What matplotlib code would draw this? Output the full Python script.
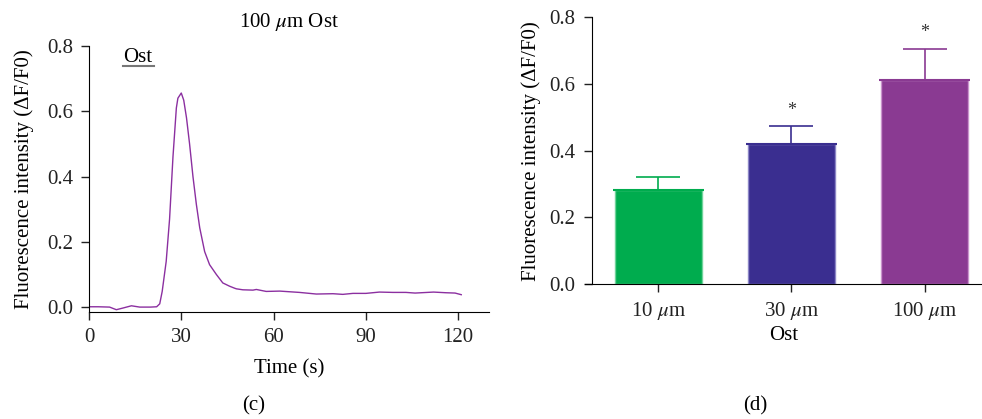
import numpy as np
import matplotlib
matplotlib.use("Agg")
import matplotlib.pyplot as plt

plt.rcParams["font.family"] = ["Liberation Serif", "DejaVu Serif"]
plt.rcParams["mathtext.fontset"] = "stix"
plt.rcParams["font.size"] = 15

# Panel (c): trace of 100 um Ost
time_s = [0, 3, 6.7, 8.9, 11, 13.8, 16.5, 20, 22, 23, 23.8, 25.1, 26.2, 27.3, 28.4,
          28.9, 30, 30.8, 31.7, 32.7, 33.8, 34.9, 36, 37.6, 39.2, 41.4, 43.5, 45.7,
          47.3, 47.9, 50, 53.3, 54.4, 57.6, 62, 68.4, 73.9, 79.3, 82.5, 85.8, 90,
          94.4, 98.8, 103, 106, 112, 116, 119, 121]
trace = [0.001, 0.001, 0.0, -0.008, -0.003, 0.004, 0.0, 0.0, 0.001, 0.01, 0.048,
         0.14, 0.27, 0.46, 0.61, 0.64, 0.656, 0.634, 0.58, 0.5, 0.40, 0.315, 0.243,
         0.17, 0.13, 0.10, 0.074, 0.064, 0.058, 0.056, 0.053, 0.052, 0.054, 0.048,
         0.049, 0.045, 0.040, 0.041, 0.039, 0.042, 0.042, 0.046, 0.045, 0.045,
         0.043, 0.046, 0.044, 0.043, 0.038]

# Panel (d): bar means and SEM
groups = [r"10 $\mu$m", r"30 $\mu$m", r"100 $\mu$m"]
means = [0.282, 0.421, 0.613]
errs = [0.039, 0.053, 0.093]
stars = ["", "*", "*"]
colors = ["#00AC4E", "#3A2E90", "#8A3A92"]
edge_colors = ["#6FD39A", "#8C86C6", "#C995CC"]

fig = plt.figure(figsize=(9.82, 4.19), dpi=100)

# ---- panel (c)
ax1 = fig.add_axes([0.0906, 0.2554, 0.4073, 0.6348])
ax1.plot(time_s, trace, color="#8B2FA0", lw=1.0)
ax1.set_xlim(0, 130)
ax1.set_ylim(-0.015, 0.8)
ax1.set_xticks([0, 30, 60, 90, 120])
ax1.set_yticks([0.0, 0.2, 0.4, 0.6, 0.8])
ax1.set_yticklabels(["0.0", "0.2", "0.4", "0.6", "0.8"])
ax1.spines["top"].set_visible(False)
ax1.spines["right"].set_visible(False)
ax1.tick_params(direction="out", length=5.5, width=1, colors="#222222", pad=6)
ax1.set_xlabel("Time (s)", labelpad=9)
ax1.set_ylabel("Fluorescence intensity (ΔF/F0)", labelpad=9)
ax1.set_title(r"100 $\mu$m Ost", fontsize=15, pad=14)
ax1.text(0.085, 0.957, "Ost", transform=ax1.transAxes, va="center")
ax1.plot([0.085, 0.162], [0.926, 0.926], transform=ax1.transAxes, color="#777777", lw=1.5)

# ---- panel (d)
ax2 = fig.add_axes([0.5957, 0.3222, 0.4043, 0.6365])
pos = np.arange(len(groups))
ax2.bar(pos, means, width=0.65, color=colors, edgecolor=edge_colors, lw=1, zorder=2)
for p, m, e, c, ec, s in zip(pos, means, errs, colors, edge_colors, stars):
    ax2.errorbar(p, m, yerr=[[0], [e]], fmt="none", ecolor=c, elinewidth=1.2,
                 capsize=16, capthick=1.2, zorder=1)
    ax2.hlines(m, p - 0.34, p + 0.34, color=c, lw=1.5, zorder=3)
    if s:
        ax2.text(p, m + e + 0.022, s, ha="center", va="bottom", fontsize=13, color="#333333")
ax2.set_xlim(-0.55, 2.43)
ax2.set_ylim(0, 0.8)
ax2.spines["left"].set_position(("data", -0.5))
ax2.spines["top"].set_visible(False)
ax2.spines["right"].set_visible(False)
ax2.set_xticks(pos)
ax2.set_xticklabels(groups)
ax2.set_yticks([0.0, 0.2, 0.4, 0.6, 0.8])
ax2.set_yticklabels(["0.0", "0.2", "0.4", "0.6", "0.8"])
ax2.tick_params(direction="out", length=5.5, width=1, colors="#222222", pad=6)
ax2.set_xlabel("Ost", labelpad=3)
ax2.set_ylabel("Fluorescence intensity (ΔF/F0)", labelpad=6)

fig.text(0.258, 0.02, "(c)", ha="center", fontsize=15)
fig.text(0.769, 0.02, "(d)", ha="center", fontsize=15)

plt.savefig("out.png", dpi=100)
